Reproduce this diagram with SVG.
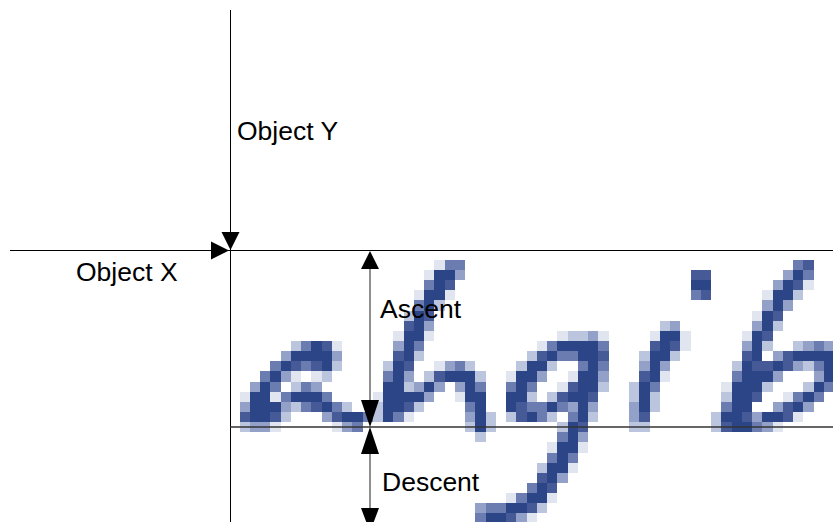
<svg xmlns="http://www.w3.org/2000/svg" width="833" height="522" viewBox="0 0 833 522">
<style>
.dk{fill:#2b4586}.mdk{fill:#465a98}.md{fill:#6b7cb0}.ml{fill:#93a1c8}.l{fill:#bcc5de}.vl{fill:#e1e5f0}
.ax{stroke:#000;stroke-width:1;fill:none}
.dim{stroke:#6a6a6a;stroke-width:1.5;fill:none}
.base{stroke:#333;stroke-width:1.5;fill:none}
.ah{fill:#000}
.lbl{font-family:"Liberation Sans",Arial,sans-serif;font-size:26.5px;fill:#000}
</style>
<rect width="833" height="522" fill="#fff"/>
<g id="glyphs" transform="translate(239.5 259.86) scale(10.25 10.14)" shape-rendering="crispEdges">
<g id="glyph-a">
<path class="dk" d="M7 8h1v1h-1zM5 9h4v1h-4zM4 10h1v1h-1zM8 10h1v1h-1zM3 11h1v1h-1zM2 12h1v1h-1zM1 13h2v1h-2zM5 13h3v1h-3zM1 14h3v1h-3zM8 14h1v1h-1zM1 15h2v1h-2zM10 15h2v1h-2z"/>
<path class="mdk" d="M8 8h1v1h-1zM5 10h1v1h-1zM7 10h1v1h-1zM7 14h1v1h-1zM0 15h1v1h-1zM3 15h1v1h-1zM9 15h1v1h-1z"/>
<path class="md" d="M6 8h1v1h-1zM3 10h1v1h-1zM6 10h1v1h-1zM2 11h1v1h-1zM3 12h1v1h-1zM6 12h1v1h-1zM4 13h1v1h-1zM8 13h1v1h-1zM6 14h1v1h-1zM9 14h1v1h-1zM12 15h1v1h-1zM11 16h1v1h-1z"/>
<path class="ml" d="M4 9h1v1h-1zM9 9h1v1h-1zM4 11h1v1h-1zM1 12h1v1h-1zM7 12h1v1h-1zM0 14h1v1h-1zM4 14h1v1h-1zM8 15h1v1h-1zM1 16h2v1h-2zM10 16h1v1h-1z"/>
<path class="l" d="M5 8h1v1h-1zM9 10h1v1h-1zM8 11h1v1h-1zM5 12h1v1h-1zM5 14h1v1h-1zM10 14h1v1h-1zM4 15h1v1h-1zM0 16h1v1h-1z"/>
<path class="vl" d="M9 8h1v1h-1zM5 11h1v1h-1zM7 11h1v1h-1zM0 13h1v1h-1zM3 13h1v1h-1zM3 16h1v1h-1zM9 16h1v1h-1z"/>
</g>
<g id="glyph-h">
<path class="dk" d="M19 1h2v1h-2zM19 2h1v1h-1zM18 3h2v1h-2zM18 4h1v1h-1zM17 5h1v1h-1zM17 6h1v1h-1zM16 7h2v1h-2zM16 8h1v1h-1zM16 9h1v1h-1zM15 10h1v1h-1zM15 11h1v1h-1zM20 11h3v1h-3zM14 12h2v1h-2zM18 12h1v1h-1zM22 12h1v1h-1zM14 13h4v1h-4zM22 13h2v1h-2zM14 14h2v1h-2zM23 14h1v1h-1zM14 15h1v1h-1zM23 15h1v1h-1zM23 16h1v1h-1z"/>
<path class="mdk" d="M20 2h1v1h-1zM18 5h1v1h-1zM16 6h1v1h-1zM15 9h1v1h-1zM16 10h1v1h-1zM19 11h1v1h-1zM16 14h1v1h-1z"/>
<path class="md" d="M20 0h2v1h-2zM18 2h1v1h-1zM17 4h1v1h-1zM17 8h1v1h-1zM21 10h1v1h-1zM14 11h1v1h-1zM23 12h1v1h-1zM22 14h1v1h-1zM15 15h1v1h-1z"/>
<path class="ml" d="M21 1h1v1h-1zM18 6h1v1h-1zM15 8h1v1h-1zM20 10h1v1h-1zM16 11h1v1h-1zM17 12h1v1h-1zM19 12h1v1h-1zM21 12h1v1h-1zM18 13h1v1h-1zM22 15h1v1h-1z"/>
<path class="l" d="M19 4h1v1h-1zM16 5h1v1h-1zM17 9h1v1h-1zM14 10h1v1h-1zM22 10h1v1h-1zM18 11h1v1h-1zM23 11h1v1h-1zM16 12h1v1h-1zM13 14h1v1h-1zM17 14h1v1h-1zM13 15h1v1h-1zM24 15h1v1h-1zM22 16h1v1h-1zM24 16h1v1h-1zM23 17h1v1h-1z"/>
<path class="vl" d="M19 0h1v1h-1zM18 1h1v1h-1zM17 3h1v1h-1zM20 3h1v1h-1zM15 7h1v1h-1zM18 7h1v1h-1zM19 10h1v1h-1zM13 13h1v1h-1zM21 13h1v1h-1zM16 15h1v1h-1z"/>
</g>
<g id="glyph-g">
<path class="dk" d="M31 8h4v1h-4zM30 9h1v1h-1zM33 9h2v1h-2zM28 10h2v1h-2zM34 10h1v1h-1zM27 11h2v1h-2zM33 11h2v1h-2zM27 12h1v1h-1zM33 12h2v1h-2zM26 13h2v1h-2zM32 13h2v1h-2zM26 14h1v1h-1zM30 14h1v1h-1zM33 14h1v1h-1zM28 15h1v1h-1zM33 15h1v1h-1zM32 16h1v1h-1zM32 17h1v1h-1zM31 18h2v1h-2zM31 19h1v1h-1zM30 20h2v1h-2zM30 21h1v1h-1zM29 22h1v1h-1zM28 23h2v1h-2zM26 24h2v1h-2zM24 25h2v1h-2z"/>
<path class="mdk" d="M29 9h1v1h-1zM35 9h1v1h-1zM32 12h1v1h-1zM31 13h1v1h-1zM34 13h1v1h-1zM27 14h1v1h-1zM27 15h1v1h-1zM33 16h1v1h-1zM29 21h1v1h-1zM30 22h1v1h-1zM28 24h1v1h-1zM26 25h1v1h-1z"/>
<path class="md" d="M30 8h1v1h-1zM35 8h1v1h-1zM31 9h2v1h-2zM33 10h1v1h-1zM35 10h1v1h-1zM26 12h1v1h-1zM28 12h1v1h-1zM28 14h2v1h-2zM31 14h1v1h-1zM29 15h1v1h-1zM32 15h1v1h-1zM31 17h1v1h-1zM30 19h1v1h-1zM32 19h1v1h-1zM28 22h1v1h-1zM27 23h1v1h-1zM24 24h2v1h-2zM23 25h1v1h-1z"/>
<path class="ml" d="M34 7h1v1h-1zM29 11h1v1h-1zM35 11h1v1h-1zM32 14h1v1h-1zM34 14h1v1h-1zM33 17h1v1h-1zM31 21h1v1h-1zM23 24h1v1h-1zM27 25h1v1h-1z"/>
<path class="l" d="M32 7h2v1h-2zM28 9h1v1h-1zM27 10h1v1h-1zM30 10h1v1h-1zM35 12h1v1h-1zM28 13h1v1h-1zM30 13h1v1h-1zM26 15h1v1h-1zM30 15h1v1h-1zM34 15h1v1h-1zM31 16h1v1h-1zM29 20h1v1h-1zM29 24h1v1h-1z"/>
<path class="vl" d="M31 7h1v1h-1zM35 7h1v1h-1zM29 8h1v1h-1zM26 11h1v1h-1zM32 11h1v1h-1zM31 12h1v1h-1zM30 18h1v1h-1zM33 18h1v1h-1zM32 20h1v1h-1zM26 23h1v1h-1zM30 23h1v1h-1zM28 25h1v1h-1z"/>
</g>
<g id="glyph-i">
<path class="dk" d="M44 2h2v1h-2zM41 7h2v1h-2zM41 8h1v1h-1zM40 9h2v1h-2zM40 10h1v1h-1zM40 11h1v1h-1zM39 12h1v1h-1zM39 13h1v1h-1zM39 14h1v1h-1z"/>
<path class="mdk" d="M44 1h2v1h-2zM45 3h1v1h-1zM40 8h1v1h-1zM42 8h1v1h-1zM39 11h1v1h-1zM39 15h1v1h-1z"/>
<path class="md" d="M44 3h1v1h-1zM40 12h1v1h-1z"/>
<path class="ml" d="M42 6h1v1h-1zM39 10h1v1h-1zM41 10h1v1h-1zM38 14h1v1h-1zM38 15h1v1h-1z"/>
<path class="l" d="M41 6h1v1h-1zM39 9h1v1h-1zM42 9h1v1h-1zM38 12h1v1h-1zM38 13h1v1h-1zM40 13h1v1h-1zM40 14h1v1h-1zM38 16h2v1h-2z"/>
<path class="vl" d="M40 7h1v1h-1zM43 7h1v1h-1zM43 8h1v1h-1zM41 11h1v1h-1z"/>
</g>
<g id="glyph-b">
<path class="dk" d="M54 1h1v1h-1zM53 2h1v1h-1zM52 3h2v1h-2zM52 4h1v1h-1zM51 5h1v1h-1zM51 6h1v1h-1zM50 7h1v1h-1zM50 8h1v1h-1zM50 9h1v1h-1zM54 9h4v1h-4zM49 10h1v1h-1zM52 10h1v1h-1zM57 10h1v1h-1zM49 11h3v1h-3zM57 11h1v1h-1zM48 12h3v1h-3zM56 12h1v1h-1zM48 13h2v1h-2zM55 13h1v1h-1zM48 14h2v1h-2zM54 14h1v1h-1zM47 15h2v1h-2zM51 15h2v1h-2zM48 16h2v1h-2z"/>
<path class="mdk" d="M55 0h1v1h-1zM54 2h1v1h-1zM52 5h1v1h-1zM51 7h1v1h-1zM49 9h1v1h-1zM53 9h1v1h-1zM50 10h2v1h-2zM53 10h1v1h-1zM50 13h1v1h-1zM53 14h1v1h-1zM49 15h1v1h-1zM53 15h1v1h-1zM47 16h1v1h-1z"/>
<path class="md" d="M54 0h1v1h-1zM55 1h1v1h-1zM56 8h1v1h-1zM56 10h1v1h-1zM48 11h1v1h-1zM57 12h1v1h-1zM54 13h1v1h-1zM56 13h1v1h-1zM47 14h1v1h-1zM50 16h1v1h-1z"/>
<path class="ml" d="M53 1h1v1h-1zM52 2h1v1h-1zM51 4h1v1h-1zM53 4h1v1h-1zM50 6h1v1h-1zM49 8h1v1h-1zM55 8h1v1h-1zM57 8h1v1h-1zM52 9h1v1h-1zM54 10h1v1h-1zM52 11h1v1h-1zM56 11h1v1h-1zM52 14h1v1h-1zM55 14h1v1h-1zM50 15h1v1h-1zM51 16h1v1h-1z"/>
<path class="l" d="M54 3h1v1h-1zM52 6h1v1h-1zM51 8h1v1h-1zM54 8h1v1h-1zM48 10h1v1h-1zM55 10h1v1h-1zM51 12h1v1h-1zM55 12h1v1h-1zM47 13h1v1h-1zM46 15h1v1h-1zM46 16h1v1h-1z"/>
<path class="vl" d="M55 2h1v1h-1zM51 3h1v1h-1zM50 5h1v1h-1zM49 7h1v1h-1zM47 12h1v1h-1zM53 13h1v1h-1zM54 15h1v1h-1zM52 16h1v1h-1z"/>
</g>
</g>
<g id="connectors">
<line class="ax" x1="230.5" y1="10" x2="230.5" y2="522"/>
<line class="ax" x1="10" y1="250.5" x2="833" y2="250.5"/>
<line class="base" x1="230" y1="427" x2="833" y2="427"/>
<line class="dim" x1="370" y1="268" x2="370" y2="401"/>
<line class="dim" x1="370" y1="453" x2="370" y2="509"/>
<polygon class="ah" points="221.5,232 239.5,232 230.5,250"/>
<polygon class="ah" points="211,241.5 211,259.5 229,250.5"/>
<polygon class="ah" points="361,269 379,269 370,251"/>
<polygon class="ah" points="361,400 379,400 370,427"/>
<polygon class="ah" points="361,454 379,454 370,427"/>
<polygon class="ah" points="361,508 379,508 370,532"/>
</g>
<g id="labels">
<text class="lbl" x="237" y="140">Object Y</text>
<text class="lbl" x="76" y="281">Object X</text>
<text class="lbl" x="380" y="318">Ascent</text>
<text class="lbl" x="382" y="491">Descent</text>
</g>
</svg>
